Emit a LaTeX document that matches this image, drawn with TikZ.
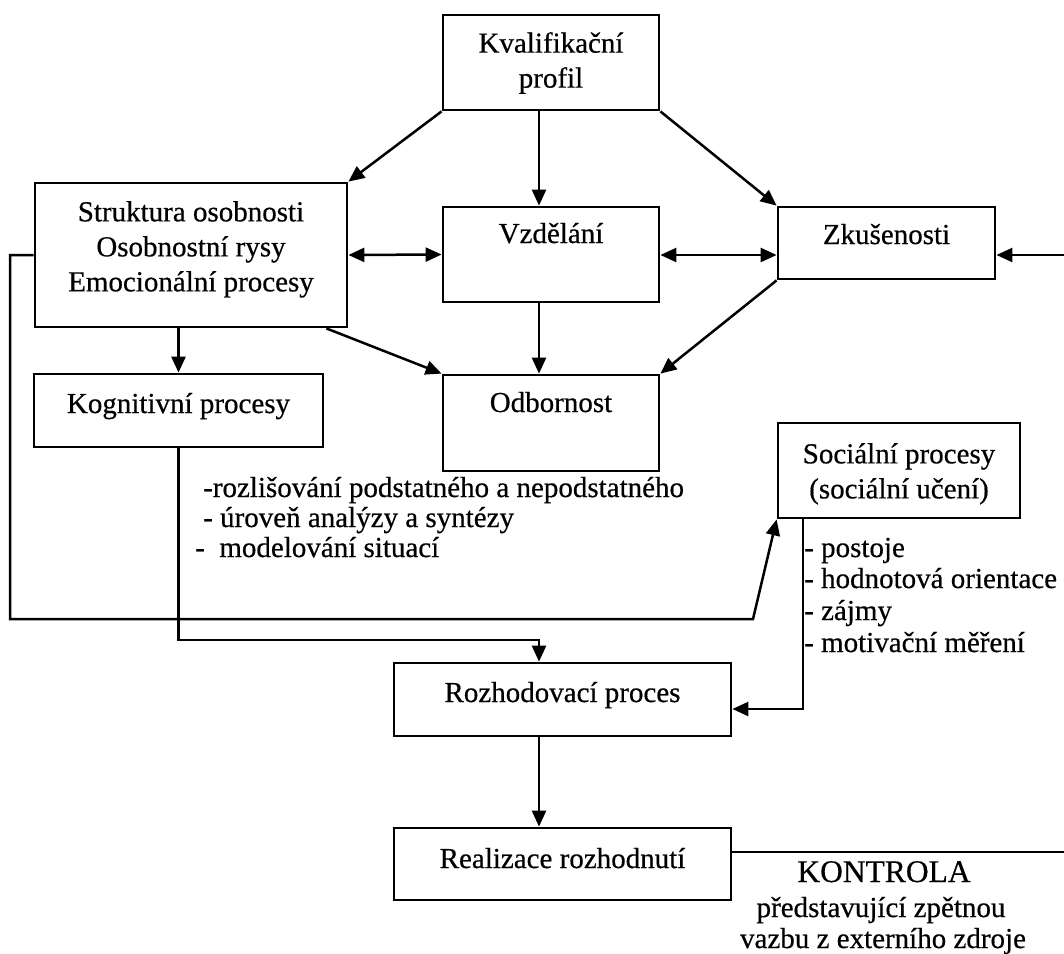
\documentclass[tikz,border=0pt]{standalone}
\usepackage{fontspec}
\setmainfont{Liberation Serif}[FakeBold=0.5]
\usetikzlibrary{arrows.meta,calc}
\begin{document}
\begin{tikzpicture}[x=1pt,y=-1pt,
  box/.style={draw,line width=2.8pt,inner sep=0pt},
  lbl/.style={font=\fontsize{29pt}{35pt}\selectfont,align=center,inner sep=0pt},
  item/.style={font=\fontsize{29pt}{31pt}\selectfont,anchor=base west,inner sep=0pt},
  conn/.style={line width=2.5pt},
  arr/.style={conn,-{Triangle[length=16pt,width=14pt]}},
  darr/.style={conn,{Triangle[length=16pt,width=14pt]}-{Triangle[length=16pt,width=14pt]}}]
\useasboundingbox (0,0) rectangle (1064,953);

% boxes
\node[box,minimum width=216pt,minimum height=95pt] (kval) at (551,62.5) {};
\node[box,minimum width=312pt,minimum height=144pt] (strukt) at (191,255) {};
\node[box,minimum width=216pt,minimum height=95pt] (vzdel) at (551,254.5) {};
\node[box,minimum width=217pt,minimum height=72pt] (zkus) at (886.5,243) {};
\node[box,minimum width=289pt,minimum height=73pt] (kogn) at (178.5,410.5) {};
\node[box,minimum width=216pt,minimum height=96pt] (odb) at (551,423) {};
\node[box,minimum width=242pt,minimum height=95pt] (soc) at (899,470.5) {};
\node[box,minimum width=337pt,minimum height=73pt] (rozh) at (562.5,699.5) {};
\node[box,minimum width=337pt,minimum height=72pt] (real) at (562.5,864) {};

% box captions
\node[lbl,anchor=north] (tkval) at (551,32) {Kvalifikační\\profil};
\node[lbl,anchor=north] (tstrukt) at (191,201) {Struktura osobnosti\\Osobnostní rysy\\Emocionální procesy};
\node[lbl,anchor=base] (tvzdel) at (551,243) {Vzdělání};
\node[lbl,anchor=base] (tzkus) at (886.5,244) {Zkušenosti};
\node[lbl,anchor=base] (tkogn) at (178.5,413) {Kognitivní procesy};
\node[lbl,anchor=base] (todb) at (551,412) {Odbornost};
\node[lbl,anchor=north] (tsoc) at (899,443) {Sociální procesy\\(sociální učení)};
\node[lbl,anchor=base] (trozh) at (562.5,702) {Rozhodovací proces};
\node[lbl,anchor=base] (treal) at (562.5,868) {Realizace rozhodnutí};

% lists
\node[item] (k1) at (203,497) {-rozlišování podstatného a nepodstatného};
\node[item] (k2) at (203,527) {- úroveň analýzy a syntézy};
\node[item] (k3) at (195,557) {-\ \ modelování situací};
\node[item] (s1) at (804,557) {- postoje};
\node[item] (s2) at (804,588) {- hodnotová orientace};
\node[item] (s3) at (804,620) {- zájmy};
\node[item] (s4) at (804,652) {- motivační měření};

% feedback note
\node[lbl,anchor=base,font=\fontsize{31.5pt}{35pt}\selectfont] (kontrola) at (884,882) {KONTROLA};
\node[lbl,anchor=base] (kline1) at (881,917) {představující zpětnou};
\node[lbl,anchor=base] (kline2) at (883,948) {vazbu z externího zdroje};

% helper points
\coordinate (lx) at (10,619);
\coordinate (sx) at (753,619);
\coordinate (jr) at (539,640);
\coordinate (sd) at (803,709);
\coordinate (rin) at (1064,255);
\coordinate (rout) at (1064,852);

% connectors
\draw[arr] (kval.south west) -- (strukt.north east);
\draw[arr] ([xshift=-12pt]kval.south) -- ([xshift=-12pt]vzdel.north);
\draw[arr] (kval.south east) -- (zkus.north west);
\draw[darr] (strukt.east) -- (vzdel.west);
\draw[darr] (vzdel.east |- rin) -- (zkus.west |- rin);
\draw[arr] (rin) -- (zkus.east |- rin);
\draw[arr] (kogn.north |- strukt.south) -- (kogn.north);
\draw[arr] ([xshift=-22pt]strukt.south east) -- (odb.north west);
\draw[arr] ([xshift=-12pt]vzdel.south) -- ([xshift=-12pt]odb.north);
\draw[arr] (zkus.south west) -- (odb.north east);
\draw[arr] (strukt.west) -| (lx) -- (sx) -- (soc.south west);
\draw[arr] (kogn.south) |- (jr) -- (jr |- rozh.north);
\draw[arr] (sd |- soc.south) -- (sd) -- (sd -| rozh.east);
\draw[arr] (jr |- rozh.south) -- (jr |- real.north);
\draw[conn] (rout -| real.east) -- (rout);
\end{tikzpicture}
\end{document}
